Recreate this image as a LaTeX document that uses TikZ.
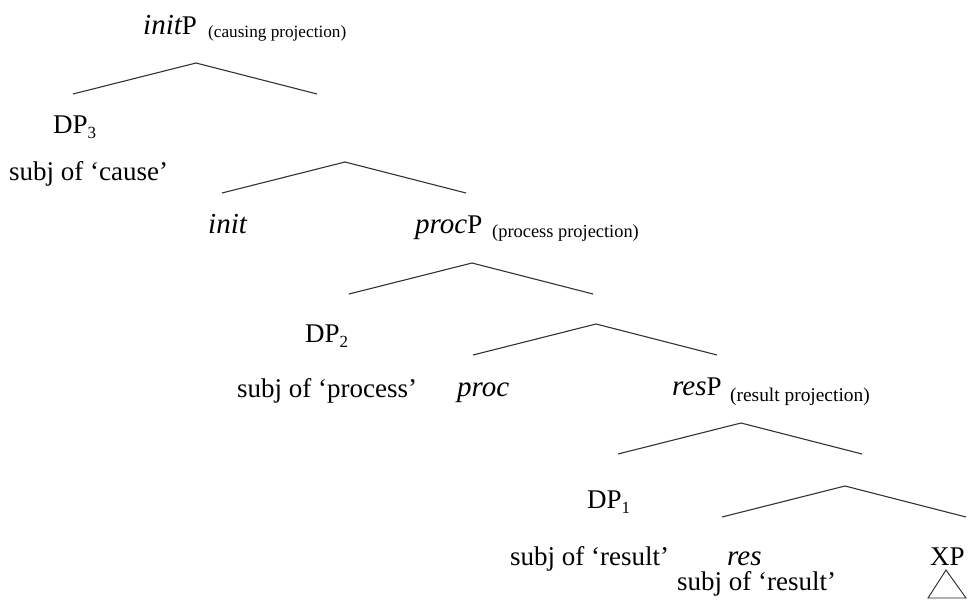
\documentclass[tikz,border=0pt]{standalone}
\usepackage{fontspec}
\setmainfont{Liberation Serif}
\newcommand{\mainsz}{\fontsize{27}{30}\selectfont}
\newcommand{\itsz}{\fontsize{29}{30}\selectfont\itshape}
\newcommand{\subsz}{\fontsize{17}{20}\selectfont}
\newcommand{\dpsub}[1]{DP\raisebox{-5pt}{\subsz #1}}
\begin{document}
\begin{tikzpicture}[x=1pt,y=-1pt,
  txt/.style={anchor=base west,inner sep=0pt,font=\mainsz},
  note/.style={anchor=base west,inner sep=0pt,font=\fontsize{#1}{20}\selectfont},
  branch/.style={line width=1.1pt,draw=black!80}]
\useasboundingbox (0,0) rectangle (968,599);
% text nodes
\node[txt] (initP) at (143,35) {{\itsz init}P};
\node[note=17.2] (initPn) at (208,38) {(causing projection)};
\node[txt] (dp3) at (53,133) {\dpsub{3}};
\node[txt] (s3) at (9,180) {subj of ‘cause’};
\node[txt] (init) at (208,233) {\itsz init};
\node[txt] (procP) at (415,233) {{\itsz proc}P};
\node[note=18.4] (procPn) at (492,237) {(process projection)};
\node[txt] (dp2) at (305,342) {\dpsub{2}};
\node[txt] (s2) at (237,397) {subj of ‘process’};
\node[txt] (proc) at (457,396) {\itsz proc};
\node[txt] (resP) at (672,395) {{\itsz res}P};
\node[note=19.4] (resPn) at (730,401) {(result projection)};
\node[txt] (dp1) at (587,508) {\dpsub{1}};
\node[txt] (s1) at (510,565) {subj of ‘result’};
\node[txt] (res) at (727,565) {\itsz res};
\node[txt] (xp) at (930,565) {XP};
\node[txt] (s0) at (677,590) {subj of ‘result’};
% branch coordinates
\foreach \n/\x/\y in {a/196/63,b/345/162,c/472/263,d/596/324,e/741/423,f/845/486}{
  \coordinate (\n top) at (\x,\y);
  \coordinate (\n l) at (\x-123,\y+31);
  \coordinate (\n r) at (\x+121,\y+31);
  \draw[branch] (\n l) -- (\n top) -- (\n r);
}
% triangle under XP
\coordinate (t1) at (946,570);
\coordinate (t2) at (928,598);
\coordinate (t3) at (966,598);
\draw[line width=0.9pt,draw=black!85] (t1) -- (t2) -- (t3) -- cycle;
\end{tikzpicture}
\end{document}
